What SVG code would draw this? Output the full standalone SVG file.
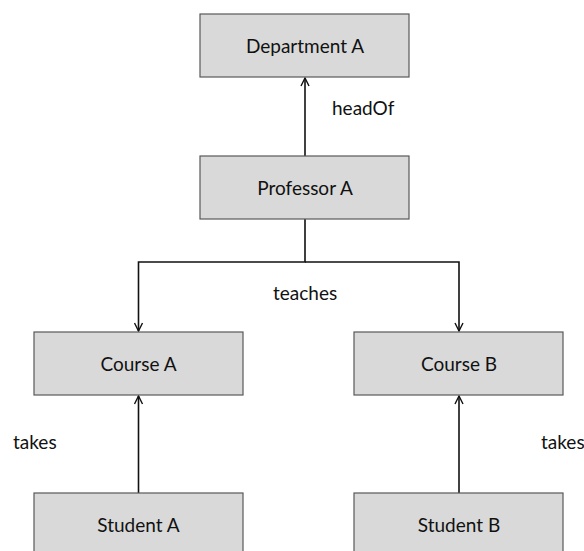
<svg xmlns="http://www.w3.org/2000/svg" width="584" height="551" viewBox="0 0 584 551">
<defs>
<style>
.box{fill:#d9d9d9;stroke:#595959;stroke-width:1.2}
.lbl{font-family:Lato,"Liberation Sans",sans-serif;font-size:19px;fill:#111;text-anchor:middle}
.edge{font-family:Lato,"Liberation Sans",sans-serif;font-size:19px;fill:#111}
.con{fill:none;stroke:#111;stroke-width:1.6}
</style>
<marker id="arr" viewBox="0 0 10 10" refX="9" refY="5" markerWidth="10" markerHeight="10" markerUnits="userSpaceOnUse" orient="auto">
<path d="M1,1 L9,5 L1,9" fill="none" stroke="#111" stroke-width="1.4"/>
</marker>
</defs>
<rect width="584" height="551" fill="#fff"/>
<g id="connectors">
<line class="con" x1="305" y1="156" x2="305" y2="78" marker-end="url(#arr)"/>
<polyline class="con" points="305,219 305,262 138.5,262 138.5,331" marker-end="url(#arr)"/>
<polyline class="con" points="305,262 459,262 459,331" marker-end="url(#arr)"/>
<line class="con" x1="138.5" y1="493" x2="138.5" y2="396" marker-end="url(#arr)"/>
<line class="con" x1="459" y1="493" x2="459" y2="396" marker-end="url(#arr)"/>
<text class="edge" x="332" y="115">headOf</text>
<text class="edge" x="273" y="300">teaches</text>
<text class="edge" x="13" y="449">takes</text>
<text class="edge" x="541" y="449">takes</text>
</g>
<g id="dept-a"><rect class="box" x="200" y="14" width="209" height="63"/><text class="lbl" x="305" y="52.5">Department A</text></g>
<g id="prof-a"><rect class="box" x="200" y="156" width="209" height="63"/><text class="lbl" x="305" y="194.5">Professor A</text></g>
<g id="course-a"><rect class="box" x="34" y="332" width="209" height="63"/><text class="lbl" x="138.5" y="371">Course A</text></g>
<g id="course-b"><rect class="box" x="354" y="332" width="209" height="63"/><text class="lbl" x="459" y="371">Course B</text></g>
<g id="student-a"><rect class="box" x="34" y="493" width="209" height="63"/><text class="lbl" x="138.5" y="532">Student A</text></g>
<g id="student-b"><rect class="box" x="354" y="493" width="209" height="63"/><text class="lbl" x="459" y="532">Student B</text></g>
</svg>
